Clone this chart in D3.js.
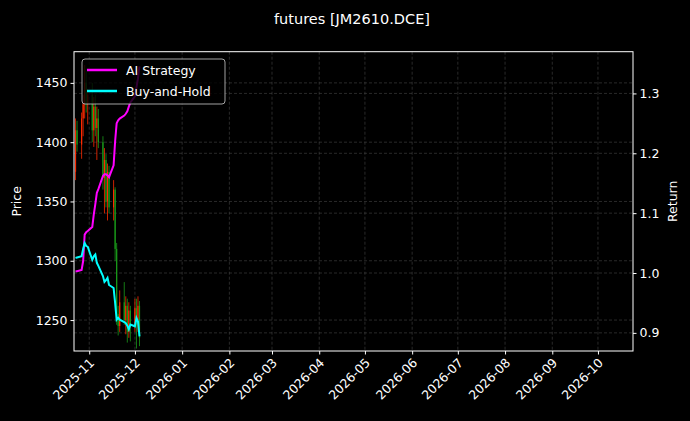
<!DOCTYPE html>
<html><head><meta charset="utf-8">
<script src="https://cdn.jsdelivr.net/npm/d3@7"></script>
<style>body{margin:0;background:#000}svg{display:block}text{font-family:"DejaVu Sans",sans-serif}</style>
</head><body><svg id="c" width="690" height="421"></svg>
<script>
const dates = ["2025-10-23","2025-10-24","2025-10-27","2025-10-28","2025-10-29","2025-10-30","2025-10-31",
"2025-11-03","2025-11-04","2025-11-05","2025-11-06","2025-11-07","2025-11-10","2025-11-11","2025-11-12","2025-11-13","2025-11-14",
"2025-11-17","2025-11-18","2025-11-19","2025-11-20","2025-11-21","2025-11-24","2025-11-25","2025-11-26","2025-11-27","2025-11-28",
"2025-12-01","2025-12-02","2025-12-03","2025-12-04"];
const open  = [1375,1410,1398,1420,1432,1450,1432,1440,1410,1430,1412,1420,1400,1370,1385,1350,1375,1345,1360,1310,1255,1245,1265,1250,1262,1240,1258,1245,1260,1250,1262];
const high  = [1420,1418,1425,1440,1465,1462,1445,1450,1438,1440,1430,1428,1405,1395,1390,1382,1380,1368,1362,1315,1262,1275,1282,1270,1268,1265,1262,1268,1268,1270,1266];
const low   = [1368,1392,1386,1405,1420,1425,1415,1400,1396,1405,1385,1395,1360,1340,1345,1334,1340,1334,1300,1246,1237,1240,1246,1238,1231,1235,1232,1240,1226,1240,1228];
const close = [1410,1398,1420,1432,1450,1432,1440,1410,1430,1412,1420,1400,1370,1385,1350,1375,1345,1360,1310,1255,1245,1265,1250,1262,1240,1258,1245,1260,1250,1262,1235];
const aiReturn = [1.003,1.003,1.005,1.020,1.064,1.068,1.070,1.077,1.098,1.115,1.134,1.140,1.162,1.165,1.165,1.163,1.160,1.180,1.220,1.250,1.255,1.258,1.263,1.266,1.270,1.278,1.285,1.295,1.310,1.325,1.345];
const bhReturn = [1.025,1.026,1.028,1.040,1.050,1.045,1.044,1.022,1.028,1.031,1.017,1.012,0.995,0.985,0.988,0.992,0.980,0.975,0.950,0.922,0.925,0.922,0.918,0.916,0.912,0.906,0.914,0.911,0.925,0.919,0.894];
const priceTicks = [1250,1300,1350,1400,1450];
const returnTicks = [0.9,1.0,1.1,1.2,1.3];
const monthTicks = ["2025-11-01","2025-12-01","2026-01-01","2026-02-01","2026-03-01","2026-04-01","2026-05-01","2026-06-01","2026-07-01","2026-08-01","2026-09-01","2026-10-01"];
const xDomain = ["2025-10-22T00:00","2026-10-24T00:00"];

const pd = d3.timeParse("%Y-%m-%d");
const D = dates.map(pd), M = monthTicks.map(pd);
const L=74,R=633,T=51.7,B=351;
const svg=d3.select("#c");
svg.append("rect").attr("width",690).attr("height",421).attr("fill","#000");
const x=d3.scaleTime().domain(xDomain.map(s=>new Date(s))).range([L,R]);
const y=d3.scaleLinear().domain([1223.9,1476.3]).range([B,T]);
const y2=d3.scaleLinear().domain([0.8697,1.3697]).range([B,T]);
const grid=svg.append("g").attr("stroke","#444").attr("stroke-dasharray","3,2").attr("stroke-width",0.6);
M.forEach(d=>grid.append("line").attr("x1",x(d)).attr("x2",x(d)).attr("y1",T).attr("y2",B));
priceTicks.forEach(v=>grid.append("line").attr("x1",L).attr("x2",R).attr("y1",y(v)).attr("y2",y(v)));
returnTicks.forEach(v=>grid.append("line").attr("x1",L).attr("x2",R).attr("y1",y2(v)).attr("y2",y2(v)));
const cg=svg.append("g");
D.forEach((d,i)=>{
  const col=close[i]>=open[i]?"#ff2a00":"#1a9a1a";
  cg.append("line").attr("x1",x(d)).attr("x2",x(d)).attr("y1",y(high[i])).attr("y2",y(low[i])).attr("stroke",col).attr("stroke-width",0.8);
  cg.append("rect").attr("x",x(d)-0.6).attr("width",1.2).attr("y",y(Math.max(open[i],close[i]))).attr("height",Math.max(0.5,Math.abs(y(open[i])-y(close[i])))).attr("fill",col);
});
const line=d3.line().x((v,i)=>x(D[i])).y(v=>y2(v));
svg.append("path").attr("d",line(aiReturn)).attr("fill","none").attr("stroke","#ff00ff").attr("stroke-width",2);
svg.append("path").attr("d",line(bhReturn)).attr("fill","none").attr("stroke","#00ffff").attr("stroke-width",2);
const ax=svg.append("g").attr("transform",`translate(0,${B})`).call(d3.axisBottom(x).tickValues(M).tickFormat(d3.timeFormat("%Y-%m")).tickSizeOuter(0).tickSize(3.5));
ax.selectAll("text").attr("transform","rotate(-45)").attr("text-anchor","end").attr("dx","-0.4em").attr("dy","0.5em");
const ay=svg.append("g").attr("transform",`translate(${L},0)`).call(d3.axisLeft(y).tickValues(priceTicks).tickFormat(d3.format("d")).tickSizeOuter(0).tickSize(3.5));
const ay2=svg.append("g").attr("transform",`translate(${R},0)`).call(d3.axisRight(y2).tickValues(returnTicks).tickFormat(d3.format(".1f")).tickSizeOuter(0).tickSize(3.5));
[ax,ay,ay2].forEach(g=>{g.select(".domain").remove();g.selectAll("line").attr("stroke","#fff");g.selectAll("text").attr("fill","#fff").style("font-size","12.5px").style("font-family","DejaVu Sans");});
svg.append("rect").attr("x",L).attr("y",T).attr("width",R-L).attr("height",B-T).attr("fill","none").attr("stroke","#fff").attr("stroke-width",1);
svg.append("text").attr("x",352).attr("y",24).attr("text-anchor","middle").attr("fill","#fff").style("font-size","14.5px").text("futures [JM2610.DCE]");
svg.append("text").attr("transform",`translate(21,${(T+B)/2}) rotate(-90)`).attr("text-anchor","middle").attr("fill","#fff").style("font-size","12.5px").text("Price");
svg.append("text").attr("transform",`translate(677,${(T+B)/2}) rotate(-90)`).attr("text-anchor","middle").attr("fill","#fff").style("font-size","12.5px").text("Return");
const lg=svg.append("g");
lg.append("rect").attr("x",82).attr("y",59).attr("width",143).attr("height",45).attr("rx",3).attr("fill","#000").attr("fill-opacity",0.8).attr("stroke","#ccc").attr("stroke-width",0.8);
[["AI Strategy","#ff00ff"],["Buy-and-Hold","#00ffff"]].forEach((e,i)=>{
  const yy=70+i*21;
  lg.append("line").attr("x1",87).attr("x2",117).attr("y1",yy).attr("y2",yy).attr("stroke",e[1]).attr("stroke-width",2.5);
  lg.append("text").attr("x",126).attr("y",yy+4.5).attr("fill","#fff").style("font-size","12.5px").text(e[0]);
});
</script></body></html>
